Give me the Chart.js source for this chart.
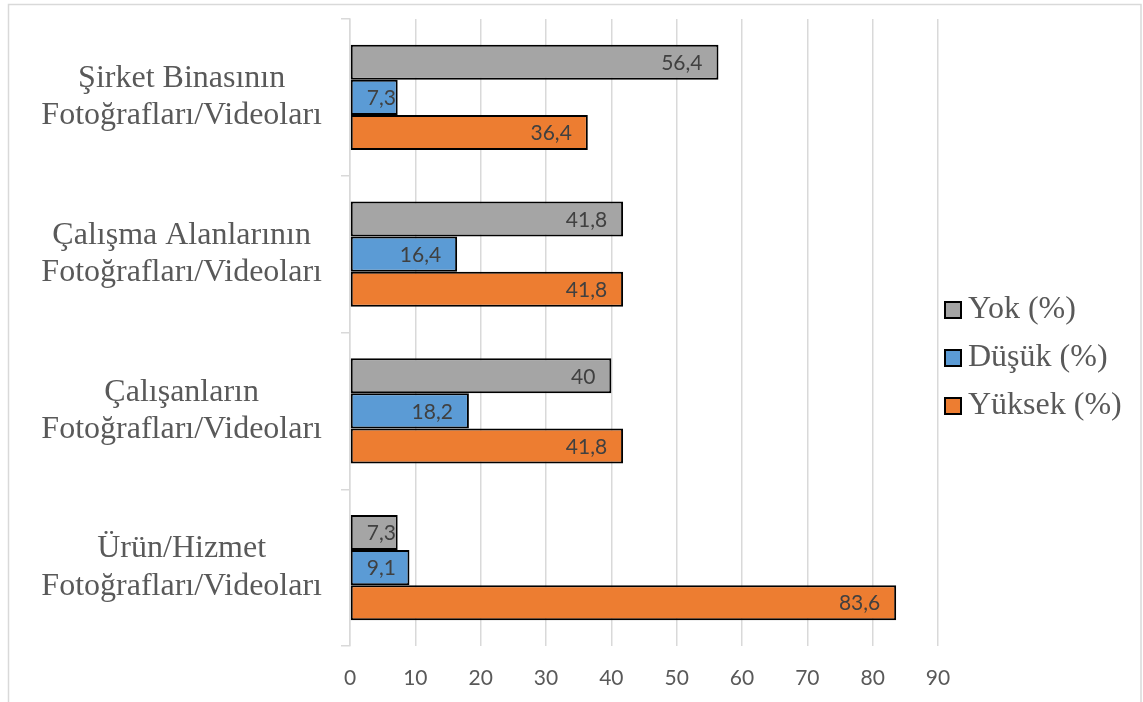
<!DOCTYPE html>
<html lang="tr">
<head>
<meta charset="utf-8">
<title>Fotoğraf/Video Kullanımı</title>
<script src="https://cdn.jsdelivr.net/npm/chart.js@4/dist/chart.umd.min.js"></script>
<style>
  html, body { margin: 0; padding: 0; background: #ffffff; }
  #wrap { width: 1143px; height: 702px; }
</style>
</head>
<body>
<div id="wrap"><canvas id="chart" width="1143" height="702"></canvas></div>
<script>
// Categories (top to bottom)
const categories = [
  ["Şirket Binasının", "Fotoğrafları/Videoları"],
  ["Çalışma Alanlarının", "Fotoğrafları/Videoları"],
  ["Çalışanların", "Fotoğrafları/Videoları"],
  ["Ürün/Hizmet", "Fotoğrafları/Videoları"]
];

// Series values (%)
const yokValues = [56.4, 41.8, 40, 7.3];
const dusukValues = [7.3, 16.4, 18.2, 9.1];
const yuksekValues = [36.4, 41.8, 41.8, 83.6];

const seriesNames = ["Yok (%)", "Düşük (%)", "Yüksek (%)"];

// Value axis ticks
const axisMin = 0;
const axisMax = 90;
const axisStep = 10;

const serifFont = "'Liberation Serif', 'Times New Roman', serif";
const sansFont = "Lato, 'Open Sans', sans-serif";

const formatValue = v => String(v).replace('.', ',');

// Outer frame of the chart (left, top, right edges)
const framePlugin = {
  id: 'frame',
  beforeDraw(chart) {
    const ctx = chart.ctx;
    ctx.save();
    ctx.fillStyle = '#ffffff';
    ctx.fillRect(0, 0, chart.width, chart.height);
    ctx.strokeStyle = '#d9d9d9';
    ctx.lineWidth = 1.5;
    ctx.beginPath();
    ctx.moveTo(8.5, chart.height + 2);
    ctx.lineTo(8.5, 4.5);
    ctx.lineTo(1141, 4.5);
    ctx.lineTo(1141, chart.height + 2);
    ctx.stroke();
    ctx.restore();
  }
};

// Value labels placed inside the end of each bar
const barLabelPlugin = {
  id: 'barLabels',
  afterDatasetsDraw(chart) {
    const ctx = chart.ctx;
    const pad = 16;
    ctx.save();
    ctx.font = "21px " + sansFont;
    ctx.fillStyle = '#404040';
    ctx.textBaseline = 'middle';
    ctx.textAlign = 'left';
    chart.data.datasets.forEach((ds, di) => {
      const meta = chart.getDatasetMeta(di);
      meta.data.forEach((bar, i) => {
        const text = formatValue(ds.data[i]);
        const w = ctx.measureText(text).width;
        let left = bar.x - pad - w;
        if (left < bar.base + pad) left = bar.base + pad;
        ctx.fillText(text, left, bar.y + 1);
      });
    });
    ctx.restore();
  }
};

// Legend to the right of the plot area
const sideLegendPlugin = {
  id: 'sideLegend',
  afterDraw(chart, args, opts) {
    const ctx = chart.ctx;
    ctx.save();
    ctx.font = "32px " + serifFont;
    ctx.textBaseline = 'middle';
    ctx.textAlign = 'left';
    chart.data.datasets.forEach((ds, i) => {
      const cy = opts.top + i * opts.spacing;
      ctx.fillStyle = ds.backgroundColor;
      ctx.fillRect(opts.x, cy - 8, 16, 16);
      ctx.strokeStyle = '#000000';
      ctx.lineWidth = 2;
      ctx.strokeRect(opts.x, cy - 8, 16, 16);
      ctx.fillStyle = '#595959';
      ctx.fillText(ds.label, opts.x + 23, cy);
    });
    ctx.restore();
  }
};

new Chart(document.getElementById('chart'), {
  type: 'bar',
  data: {
    labels: categories,
    datasets: [
      { label: seriesNames[0], data: yokValues, backgroundColor: '#a5a5a5' },
      { label: seriesNames[1], data: dusukValues, backgroundColor: '#5b9bd5' },
      { label: seriesNames[2], data: yuksekValues, backgroundColor: '#ed7d31' }
    ]
  },
  options: {
    indexAxis: 'y',
    responsive: false,
    animation: false,
    devicePixelRatio: 1,
    layout: { padding: { top: 19, right: 205, left: 0, bottom: 0 } },
    datasets: {
      bar: {
        borderColor: '#000000',
        borderWidth: 2,
        borderSkipped: false,
        barPercentage: 1,
        categoryPercentage: 0.67
      }
    },
    scales: {
      x: {
        min: axisMin,
        max: axisMax,
        ticks: {
          stepSize: axisStep,
          color: '#595959',
          font: { family: sansFont, size: 21 },
          padding: 20
        },
        grid: { color: '#d9d9d9', lineWidth: 1.5, drawTicks: false },
        border: { display: false },
        afterFit(scale) {
          scale.height = 56;
          scale.paddingLeft = 0;
          scale.paddingRight = 0;
        }
      },
      y: {
        ticks: {
          color: '#595959',
          font: { family: serifFont, size: 32, lineHeight: 1.16 },
          padding: 19,
          crossAlign: 'center'
        },
        grid: {
          drawOnChartArea: false,
          drawTicks: true,
          tickLength: 9,
          color: '#d9d9d9',
          lineWidth: 1.5
        },
        border: { display: true, color: '#d9d9d9', width: 1.5 },
        afterFit(scale) {
          scale.width = 350;
          scale.paddingTop = 0;
          scale.paddingBottom = 0;
        }
      }
    },
    plugins: {
      legend: { display: false },
      tooltip: { enabled: false },
      sideLegend: { x: 945, top: 310, spacing: 48 }
    }
  },
  plugins: [framePlugin, barLabelPlugin, sideLegendPlugin]
});
</script>
</body>
</html>
